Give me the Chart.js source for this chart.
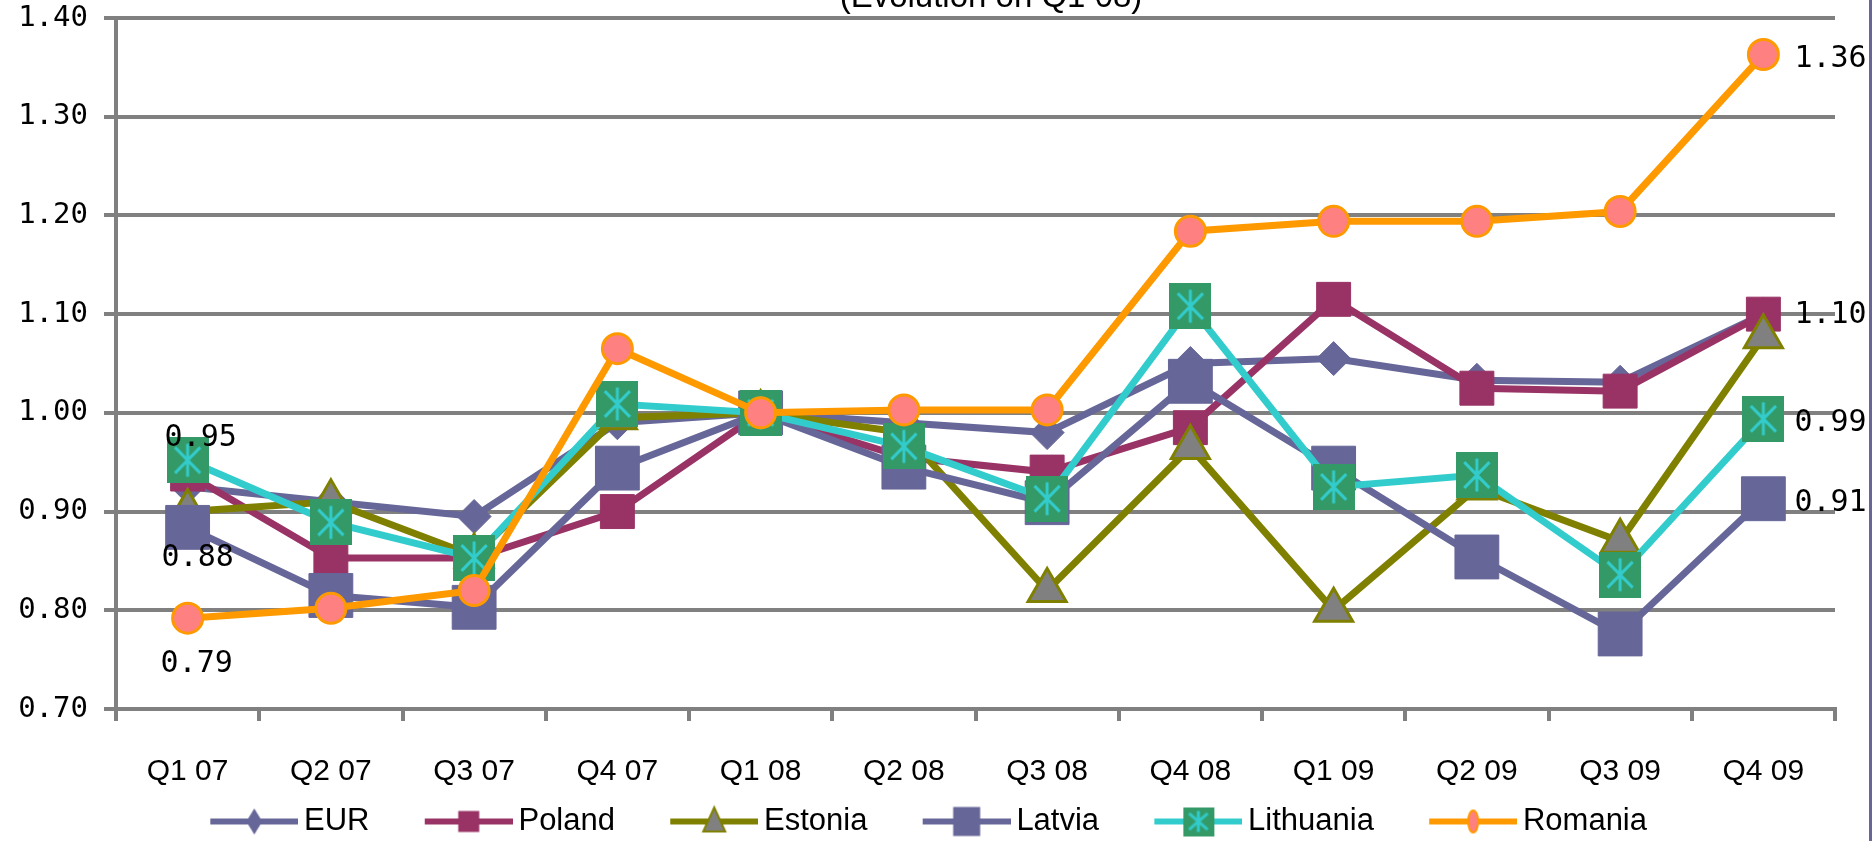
<!DOCTYPE html>
<html>
<head>
<meta charset="utf-8">
<title>Evolution on Q1 08</title>
<script src="https://cdn.jsdelivr.net/npm/chart.js@4.4.1/dist/chart.umd.min.js"></script>
<style>
  html, body { margin: 0; padding: 0; background: #fff; overflow: hidden; }
  #wrap { width: 1874px; height: 847px; }
</style>
</head>
<body>
<div id="wrap"><canvas id="grafico" width="1874" height="847"></canvas></div>
<script>
// datos
const quarters = ["Q1 07", "Q2 07", "Q3 07", "Q4 07", "Q1 08", "Q2 08", "Q3 08", "Q4 08", "Q1 09", "Q2 09", "Q3 09", "Q4 09"];
const yTicks = [0.70, 0.80, 0.90, 1.00, 1.10, 1.20, 1.30, 1.40];

const eur       = [0.925, 0.91, 0.895, 0.99, 1.00, 0.99, 0.98, 1.05, 1.055, 1.033, 1.031, 1.10];
const poland    = [0.938, 0.853, 0.853, 0.90, 1.00, 0.955, 0.94, 0.985, 1.115, 1.025, 1.022, 1.10];
const estonia   = [0.90, 0.91, 0.855, 0.995, 1.00, 0.98, 0.82, 0.965, 0.80, 0.924, 0.87, 1.077];
const latvia    = [0.884, 0.815, 0.803, 0.944, 1.00, 0.945, 0.909, 1.032, 0.944, 0.854, 0.776, 0.913];
const lithuania = [0.952, 0.889, 0.853, 1.009, 1.00, 0.966, 0.913, 1.108, 0.925, 0.937, 0.836, 0.994];
const romania   = [0.792, 0.802, 0.82, 1.065, 1.00, 1.003, 1.003, 1.184, 1.194, 1.194, 1.204, 1.363];

const chartTitle = "(Evolution on Q1 08)";

// etiquetas de valor que muestra el original
const valueLabels = [
    { ds: 4, i: 0,  dx: 13, dy: -22, align: "center" },
    { ds: 3, i: 0,  dx: 10, dy: 31,  align: "center" },
    { ds: 5, i: 0,  dx: 9,  dy: 46,  align: "center" },
    { ds: 5, i: 11, dx: 31, dy: 5,   align: "left" },
    { ds: 1, i: 11, dx: 31, dy: 1,   align: "left" },
    { ds: 4, i: 11, dx: 31, dy: 4,   align: "left" },
    { ds: 3, i: 11, dx: 31, dy: 4,   align: "left" }
];

const GRIS = "#808080";

// marcador verde con asterisco (Lithuania)
function asterisco(w, h) {
    const c = document.createElement("canvas");
    c.width = w; c.height = h;
    const g = c.getContext("2d");
    g.fillStyle = "#339966";
    g.fillRect(0, 0, w, h);
    g.strokeStyle = "#33CCCC";
    g.lineWidth = 3;
    g.beginPath();
    g.moveTo(w / 2, h * 0.14); g.lineTo(w / 2, h * 0.86);
    g.moveTo(w * 0.2, h * 0.22); g.lineTo(w * 0.8, h * 0.78);
    g.moveTo(w * 0.8, h * 0.22); g.lineTo(w * 0.2, h * 0.78);
    g.stroke();
    return c;
}

// icono de leyenda: linea + marcador, con margen transparente a la izquierda
function iconoLeyenda(color, marcador) {
    const c = document.createElement("canvas");
    c.width = 120; c.height = 40;
    const g = c.getContext("2d");
    const x0 = 32, cy = 20, cx = (x0 + 120) / 2;
    g.strokeStyle = color;
    g.lineWidth = 6;
    g.beginPath(); g.moveTo(x0, cy); g.lineTo(120, cy); g.stroke();
    marcador(g, cx, cy);
    return c;
}

const iconos = [
    iconoLeyenda("#666699", (g, x, y) => {
        g.fillStyle = "#666699";
        g.beginPath(); g.moveTo(x, y - 13); g.lineTo(x + 8, y); g.lineTo(x, y + 13); g.lineTo(x - 8, y); g.closePath(); g.fill();
    }),
    iconoLeyenda("#993366", (g, x, y) => { g.fillStyle = "#993366"; g.fillRect(x - 10.5, y - 10.5, 21, 21); }),
    iconoLeyenda("#808000", (g, x, y) => {
        g.fillStyle = GRIS; g.strokeStyle = "#808000"; g.lineWidth = 2;
        g.beginPath(); g.moveTo(x, y - 14); g.lineTo(x + 11, y + 10); g.lineTo(x - 11, y + 10); g.closePath(); g.fill(); g.stroke();
    }),
    iconoLeyenda("#666699", (g, x, y) => { g.fillStyle = "#666699"; g.fillRect(x - 13.5, y - 14.5, 27, 29); }),
    iconoLeyenda("#33CCCC", (g, x, y) => { g.drawImage(asterisco(31, 29), x - 15.5, y - 14.5); }),
    iconoLeyenda("#FF9900", (g, x, y) => {
        g.fillStyle = "#FF8080"; g.strokeStyle = "#FF9900"; g.lineWidth = 2;
        g.beginPath(); g.ellipse(x, y, 5, 11, 0, 0, Math.PI * 2); g.fill(); g.stroke();
    })
];

const etiquetas = {
    id: "etiquetas",
    afterDatasetsDraw(chart) {
        const ctx = chart.ctx;
        ctx.save();
        ctx.font = '30px "DejaVu Sans Mono"';
        ctx.fillStyle = "#000";
        ctx.textBaseline = "middle";
        valueLabels.forEach(l => {
            const pt = chart.getDatasetMeta(l.ds).data[l.i];
            const v = chart.data.datasets[l.ds].data[l.i];
            ctx.textAlign = l.align;
            ctx.fillText(v.toFixed(2), pt.x + l.dx, pt.y + l.dy);
        });
        ctx.restore();
    }
};

const marco = {
    id: "marco",
    afterDraw(chart) {
        const ctx = chart.ctx;
        ctx.save();
        ctx.fillStyle = "#666699";
        ctx.fillRect(1869, 0, 3, chart.height);
        ctx.font = '33px "Liberation Sans"';
        ctx.fillStyle = "#000";
        ctx.textAlign = "center";
        ctx.textBaseline = "alphabetic";
        ctx.fillText(chartTitle, 991, 7);
        ctx.restore();
    }
};

function serie(label, data, color, extra) {
    return Object.assign({
        label: label,
        data: data,
        borderColor: color,
        backgroundColor: color,
        borderWidth: 7,
        tension: 0,
        pointBorderColor: color,
        pointBackgroundColor: color,
        pointBorderWidth: 1
    }, extra);
}

const ctx = document.getElementById("grafico").getContext("2d");
new Chart(ctx, {
    type: "line",
    data: {
        labels: quarters,
        datasets: [
            serie("EUR", eur, "#666699", { pointStyle: "rectRot", pointRadius: 17, order: 6 }),
            serie("Poland", poland, "#993366", { pointStyle: "rect", pointRadius: 24, order: 5 }),
            serie("Estonia", estonia, "#808000", { pointStyle: "triangle", pointRadius: 22, pointBackgroundColor: GRIS, pointBorderWidth: 3, order: 4 }),
            serie("Latvia", latvia, "#666699", { pointStyle: "rect", pointRadius: 31, order: 3 }),
            serie("Lithuania", lithuania, "#33CCCC", { pointStyle: asterisco(42, 46), pointRadius: 22, order: 2 }),
            serie("Romania", romania, "#FF9900", { pointStyle: "circle", pointRadius: 15, pointBackgroundColor: "#FF8080", pointBorderColor: "#FF9900", pointBorderWidth: 3, order: 1 })
        ]
    },
    options: {
        responsive: false,
        animation: false,
        layout: { autoPadding: false, padding: { top: 18, right: 39, left: 0, bottom: 0 } },
        plugins: {
            tooltip: { enabled: false },
            title: { display: false },
            legend: {
                position: "bottom",
                labels: {
                    usePointStyle: true,
                    pointStyleWidth: 100.5,
                    padding: 33,
                    color: "#000",
                    font: { family: "Liberation Sans", size: 31 },
                    generateLabels(chart) {
                        return chart.data.datasets.map((ds, i) => ({
                            text: ds.label,
                            pointStyle: iconos[i],
                            fillStyle: ds.borderColor,
                            strokeStyle: ds.borderColor,
                            lineWidth: 0,
                            hidden: !chart.isDatasetVisible(i),
                            datasetIndex: i
                        }));
                    }
                }
            }
        },
        scales: {
            x: {
                offset: true,
                grid: { offset: true, drawOnChartArea: false, drawTicks: true, tickLength: 12, color: GRIS, lineWidth: 4 },
                border: { color: GRIS, width: 4 },
                ticks: { color: "#000", font: { family: "Liberation Sans", size: 30 }, padding: 33, maxRotation: 0, autoSkip: false },
                afterFit(s) {
                    s.height = 64;
                    s.paddingLeft = 0; s.paddingRight = 0;
                    // las etiquetas bajan por debajo de la caja del eje: sin recorte
                    s._computeLabelArea = () => undefined;
                }
            },
            y: {
                min: yTicks[0],
                max: yTicks[yTicks.length - 1],
                afterBuildTicks(s) { s.ticks = yTicks.map(v => ({ value: v })); },
                ticks: { color: "#000", font: { family: "DejaVu Sans Mono", size: 29 }, padding: 16, callback: v => Number(v).toFixed(2) },
                grid: { color: GRIS, lineWidth: 4, tickLength: 12, drawTicks: true },
                border: { color: GRIS, width: 4 },
                afterFit(s) {
                    s.width = 116;
                    s.paddingTop = 0; s.paddingBottom = 0;
                }
            }
        }
    },
    plugins: [etiquetas, marco]
});
</script>
</body>
</html>
